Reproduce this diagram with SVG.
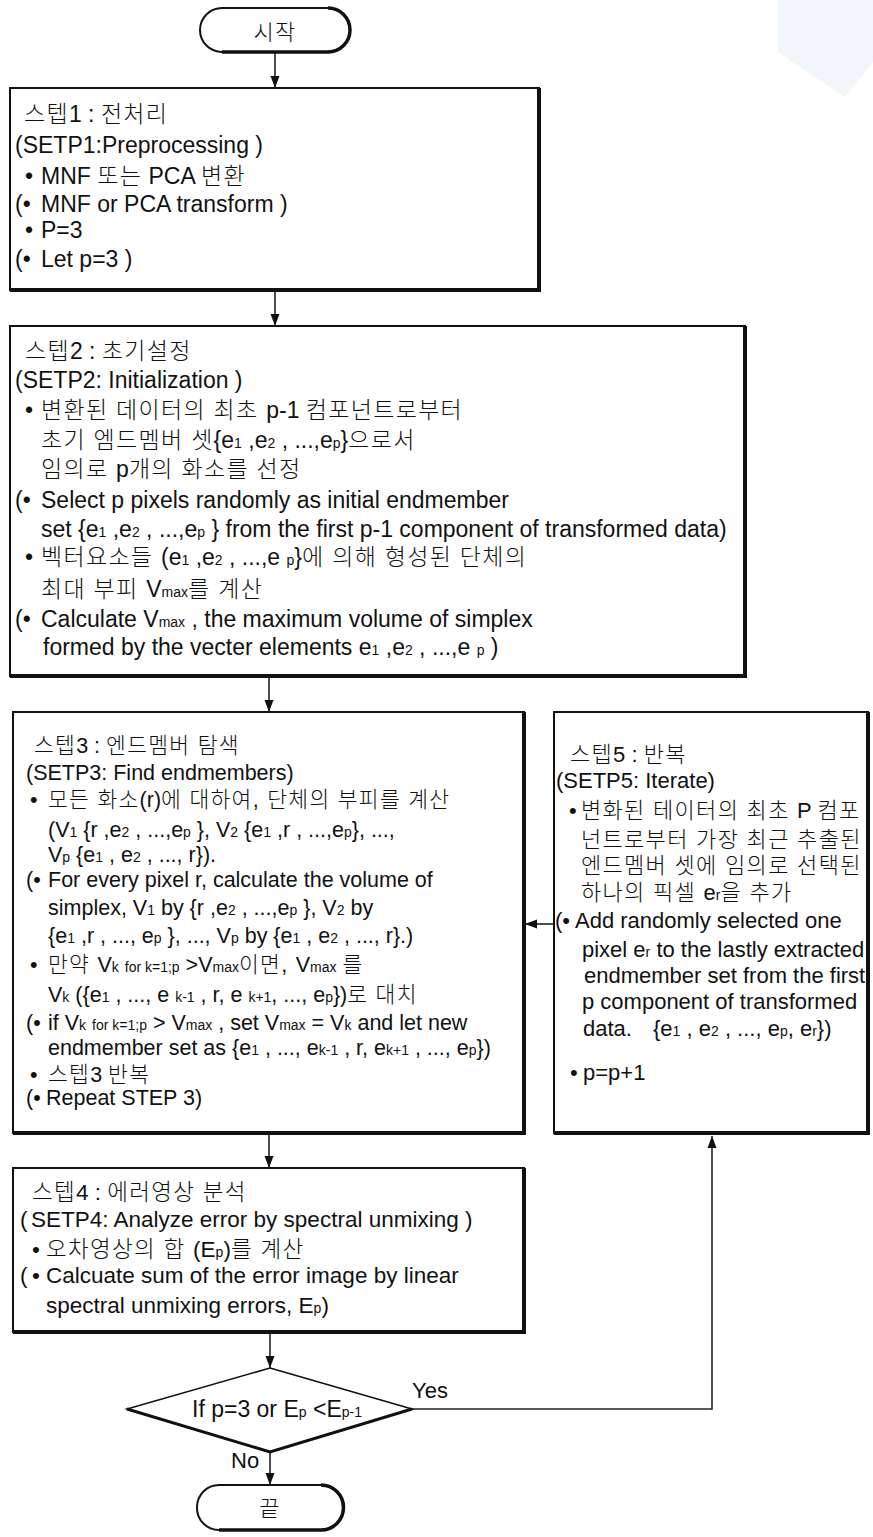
<svg xmlns="http://www.w3.org/2000/svg" width="873" height="1537" viewBox="0 0 873 1537">
<defs>
<style>
.t{font-family:"Liberation Sans","Noto Sans CJK KR",sans-serif;font-size:22px;fill:#111}
.b1{font-size:23px}
.b3{font-size:21.5px}
.b4{font-size:22.5px}
.k{letter-spacing:1.3px;font-weight:300}
.s{font-size:14px}
.box{fill:#fff;stroke:#111;stroke-width:2}
.sh{fill:none;stroke:#111;stroke-width:4}
.ln{fill:none;stroke:#222;stroke-width:1.6}
</style>
<marker id="ah" markerUnits="userSpaceOnUse" markerWidth="12" markerHeight="18" refX="16" refY="6" orient="auto" viewBox="0 0 16 12">
<path d="M0,0 L16,6 L0,12 Z" fill="#111"/>
</marker>
</defs>
<rect width="873" height="1537" fill="#fff"/>
<polygon points="778,0 873,0 873,62 845,97 778,52" fill="#f1f6fa"/>

<g id="connectors">
<line class="ln" x1="275" y1="53" x2="275" y2="88" marker-end="url(#ah)"/>
<line class="ln" x1="275" y1="291" x2="275" y2="326" marker-end="url(#ah)"/>
<line class="ln" x1="269" y1="678" x2="269" y2="712" marker-end="url(#ah)"/>
<line class="ln" x1="554" y1="924" x2="525" y2="924" marker-end="url(#ah)"/>
<line class="ln" x1="269" y1="1135" x2="269" y2="1168" marker-end="url(#ah)"/>
<line class="ln" x1="270" y1="1334" x2="270" y2="1368" marker-end="url(#ah)"/>
<line class="ln" x1="270" y1="1452" x2="270" y2="1485" marker-end="url(#ah)"/>
<polyline class="ln" points="412,1409 712,1409 712,1136" marker-end="url(#ah)"/>
<text class="t" x="412" y="1398">Yes</text>
<text class="t" x="231" y="1468">No</text>
</g>

<g id="start">
<rect x="200" y="8" width="150" height="44" rx="22" class="box"/>
<path d="M328,8 A22,22 0 0 1 328,52 H222" fill="none" stroke="#111" stroke-width="3.5"/>
<text class="t k" x="275" y="40" text-anchor="middle" font-size="24">시작</text>
</g>

<g id="step1" class="t b1">
<rect x="10" y="88" width="529" height="202" class="box"/>
<path class="sh" d="M539,88 V290 H10"/>
<text x="24" y="122"><tspan class="k">스텝</tspan>1 : <tspan class="k">전처리</tspan></text>
<text x="15" y="153">(SETP1:Preprocessing )</text>
<text y="184"><tspan x="25">•</tspan><tspan x="41">MNF <tspan class="k">또는</tspan> PCA <tspan class="k">변환</tspan></tspan></text>
<text y="212"><tspan x="15">(•</tspan><tspan x="41">MNF or PCA transform )</tspan></text>
<text y="238"><tspan x="25">•</tspan><tspan x="41">P=3</tspan></text>
<text y="267"><tspan x="15">(•</tspan><tspan x="41">Let p=3 )</tspan></text>
</g>

<g id="step2" class="t b1">
<rect x="10" y="326" width="735" height="350" class="box"/>
<path class="sh" d="M745,326 V676 H10"/>
<text x="25" y="359"><tspan class="k">스텝</tspan>2 : <tspan class="k">초기설정</tspan></text>
<text x="15" y="388">(SETP2: Initialization )</text>
<text y="418"><tspan x="25">•</tspan><tspan x="41"><tspan class="k">변환된 데이터의 최초 </tspan>p-1 <tspan class="k">컴포넌트로부터</tspan></tspan></text>
<text x="41" y="448"><tspan class="k">초기 엠드멤버 셋</tspan>{e<tspan class="s">1</tspan> ,e<tspan class="s">2</tspan> , ...,e<tspan class="s">p</tspan>}<tspan class="k">으로서</tspan></text>
<text x="41" y="477"><tspan class="k">임의로 </tspan>p<tspan class="k">개의 화소를 선정</tspan></text>
<text y="508"><tspan x="15">(•</tspan><tspan x="41">Select p pixels randomly as initial endmember</tspan></text>
<text x="41" y="537">set {e<tspan class="s">1</tspan> ,e<tspan class="s">2</tspan> , ...,e<tspan class="s">p</tspan> } from the first p-1 component of transformed data)</text>
<text y="565"><tspan x="25">•</tspan><tspan x="41"><tspan class="k">벡터요소들 </tspan>(e<tspan class="s">1</tspan> ,e<tspan class="s">2</tspan> , ...,e <tspan class="s">p</tspan>}<tspan class="k">에 의해 형성된 단체의</tspan></tspan></text>
<text x="41" y="597"><tspan class="k">최대 부피 </tspan>V<tspan class="s">max</tspan><tspan class="k">를 계산</tspan></text>
<text y="627"><tspan x="15">(•</tspan><tspan x="41">Calculate V<tspan class="s">max</tspan> , the maximum volume of simplex</tspan></text>
<text x="43" y="655">formed by the vecter elements e<tspan class="s">1</tspan> ,e<tspan class="s">2</tspan> , ...,e <tspan class="s">p</tspan> )</text>
</g>

<g id="step3" class="t b3">
<rect x="13" y="712" width="511" height="421" class="box"/>
<path class="sh" d="M524,712 V1133 H13"/>
<text x="34" y="753"><tspan class="k">스텝</tspan>3 : <tspan class="k">엔드멤버 탐색</tspan></text>
<text x="26" y="780">(SETP3: Find endmembers)</text>
<text y="807"><tspan x="30">•</tspan><tspan x="48"><tspan class="k">모든 화소</tspan>(r)<tspan class="k">에 대하여, 단체의 부피를 계산</tspan></tspan></text>
<text x="48" y="837">(V<tspan class="s">1</tspan> {r ,e<tspan class="s">2</tspan> , ...,e<tspan class="s">p</tspan> }, V<tspan class="s">2</tspan> {e<tspan class="s">1</tspan> ,r  , ...,e<tspan class="s">p</tspan>}, ...,</text>
<text x="48" y="862">V<tspan class="s">p</tspan> {e<tspan class="s">1</tspan> , e<tspan class="s">2</tspan> , ..., r}).</text>
<text y="887"><tspan x="26">(•</tspan><tspan x="48">For every pixel r, calculate the volume of</tspan></text>
<text x="48" y="915">simplex, V<tspan class="s">1</tspan> by {r ,e<tspan class="s">2</tspan> , ...,e<tspan class="s">p</tspan> }, V<tspan class="s">2</tspan> by</text>
<text x="48" y="943">{e<tspan class="s">1</tspan> ,r , ..., e<tspan class="s">p</tspan> }, ..., V<tspan class="s">p</tspan> by {e<tspan class="s">1</tspan> , e<tspan class="s">2</tspan> , ..., r}.)</text>
<text y="972"><tspan x="30">•</tspan><tspan x="48"><tspan class="k">만약 </tspan>V<tspan class="s">k</tspan> <tspan class="s">for k=1;p</tspan> &gt;V<tspan class="s">max</tspan><tspan class="k">이면, </tspan>V<tspan class="s">max</tspan> <tspan class="k">를</tspan></tspan></text>
<text x="48" y="1002">V<tspan class="s">k</tspan> ({e<tspan class="s">1</tspan> , ..., e <tspan class="s">k-1</tspan> , r, e <tspan class="s">k+1</tspan>, ..., e<tspan class="s">p</tspan>})<tspan class="k">로 대치</tspan></text>
<text y="1030"><tspan x="26">(•</tspan><tspan x="48">if V<tspan class="s">k</tspan> <tspan class="s">for k=1;p</tspan> &gt; V<tspan class="s">max</tspan> , set V<tspan class="s">max</tspan> = V<tspan class="s">k</tspan> and let new</tspan></text>
<text x="48" y="1055">endmember set as {e<tspan class="s">1</tspan> , ..., e<tspan class="s">k-1</tspan> , r, e<tspan class="s">k+1</tspan> , ..., e<tspan class="s">p</tspan>})</text>
<text y="1082"><tspan x="30">•</tspan><tspan x="48"><tspan class="k">스텝</tspan>3 <tspan class="k">반복</tspan></tspan></text>
<text y="1105"><tspan x="26">(•</tspan><tspan x="46">Repeat STEP 3)</tspan></text>
</g>

<g id="step5" class="t">
<rect x="554" y="712" width="314" height="421" class="box"/>
<path class="sh" d="M868,712 V1133 H554"/>
<text x="570" y="762"><tspan class="k">스텝</tspan>5 : <tspan class="k">반복</tspan></text>
<text x="556" y="788">(SETP5: Iterate)</text>
<text y="818"><tspan x="569">•</tspan><tspan x="581" class="k">변화된 테이터의 최초 </tspan>P <tspan class="k">컴포</tspan></text>
<text x="581" y="847" class="k">넌트로부터 가장 최근 추출된</text>
<text x="581" y="873" class="k">엔드멤버 셋에 임의로 선택된</text>
<text x="581" y="900"><tspan class="k">하나의 픽셀 </tspan>e<tspan class="s">r</tspan><tspan class="k">을 추가</tspan></text>
<text y="928"><tspan x="555">(•</tspan><tspan x="575">Add randomly selected one</tspan></text>
<text x="582" y="957">pixel e<tspan class="s">r</tspan> to the lastly extracted</text>
<text x="584" y="983">endmember set from the first</text>
<text x="582" y="1009">p component of transformed</text>
<text y="1036"><tspan x="583">data.</tspan><tspan x="653">{e<tspan class="s">1</tspan> , e<tspan class="s">2</tspan> , ..., e<tspan class="s">p</tspan>, e<tspan class="s">r</tspan>})</tspan></text>
<text y="1080"><tspan x="570">•</tspan><tspan x="583">p=p+1</tspan></text>
</g>

<g id="step4" class="t b4">
<rect x="13" y="1168" width="511" height="164" class="box"/>
<path class="sh" d="M524,1168 V1332 H13"/>
<text x="32" y="1200"><tspan class="k">스텝</tspan>4 : <tspan class="k">에러영상 분석</tspan></text>
<text y="1227"><tspan x="20">(</tspan><tspan x="31">SETP4: Analyze error by spectral unmixing )</tspan></text>
<text y="1257"><tspan x="32">•</tspan><tspan x="46"><tspan class="k">오차영상의 합 </tspan>(E<tspan class="s">p</tspan>)<tspan class="k">를 계산</tspan></tspan></text>
<text y="1283"><tspan x="20">(</tspan><tspan x="32">•</tspan><tspan x="46">Calcuate sum of the error image by linear</tspan></text>
<text x="46" y="1313">spectral unmixing errors, E<tspan class="s">p</tspan>)</text>
</g>

<g id="decision">
<polygon points="270,1368 412,1409 270,1452 127,1409" fill="#fff" stroke="#111" stroke-width="1.6"/>
<path d="M127,1409 L270,1452 L412,1409" fill="none" stroke="#111" stroke-width="3"/>
<text class="t b1" x="192" y="1417">If p=3 or E<tspan class="s">p</tspan> &lt;E<tspan class="s">p-1</tspan></text>
</g>

<g id="end">
<rect x="197" y="1485" width="146" height="45" rx="22" class="box"/>
<path d="M321,1485 A22,22 0 0 1 321,1530 H219" fill="none" stroke="#111" stroke-width="3.5"/>
<text class="t k" x="270" y="1516" text-anchor="middle">끝</text>
</g>
</svg>
